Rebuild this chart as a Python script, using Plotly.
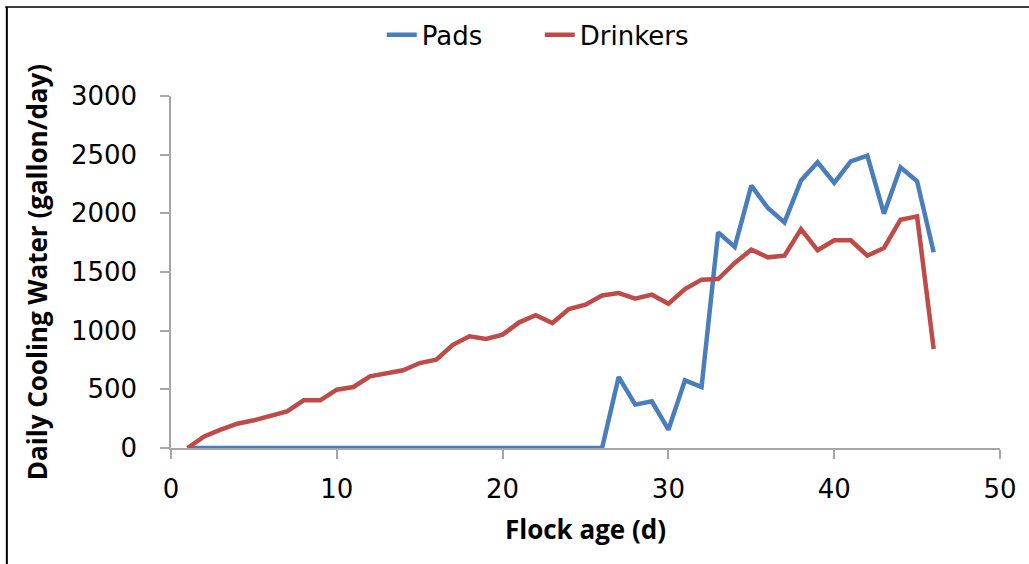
import plotly.graph_objects as go

days = list(range(1, 47))
pads = [0, 0, 0, 0, 0, 0, 0, 0, 0, 0,
        0, 0, 0, 0, 0, 0, 0, 0, 0, 0,
        0, 0, 0, 0, 0, 0, 605, 370, 398, 156,
        577, 520, 1838, 1713, 2236, 2045, 1923, 2281, 2435, 2259,
        2443, 2491, 1997, 2392, 2273, 1668]
drinkers = [0, 99, 156, 207, 236, 270, 312, 406, 406, 497,
            520, 611, 639, 662, 724, 753, 880, 952, 929, 966,
            1071, 1131, 1065, 1185, 1222, 1300, 1321, 1273, 1307, 1230,
            1355, 1435, 1440, 1577, 1690, 1625, 1639, 1866, 1685, 1770,
            1770, 1639, 1705, 1946, 1974, 844]
x_ticks = [0, 10, 20, 30, 40, 50]
y_ticks = [0, 500, 1000, 1500, 2000, 2500, 3000]

BLUE = "#4A7EBB"
RED = "#BE4B48"
AXIS = "#A6A6A6"
TICK_FONT = dict(family="DejaVu Sans", size=26, color="#000000")
TITLE_FONT = dict(family="Open Sans", size=26, color="#000000", weight="bold")

fig = go.Figure()
fig.add_trace(go.Scatter(x=days, y=pads, mode="lines", name="Pads",
                         line=dict(color=BLUE, width=4.5)))
fig.add_trace(go.Scatter(x=days, y=drinkers, mode="lines", name="Drinkers",
                         line=dict(color=RED, width=4.5)))

fig.update_layout(
    width=1029, height=564,
    margin=dict(l=171, r=29, t=96, b=116, autoexpand=False),
    paper_bgcolor="white", plot_bgcolor="white",
    showlegend=True,
    legend=dict(orientation="h", xref="container", yref="container",
                x=0.371, y=0.938, xanchor="left", yanchor="middle",
                entrywidth=113, entrywidthmode="pixels",
                font=dict(family="DejaVu Sans", size=26, color="#000000"),
                bgcolor="rgba(0,0,0,0)"),
    xaxis=dict(range=[0, 50], tickvals=x_ticks, showgrid=False, zeroline=False,
               showline=True, linecolor=AXIS, linewidth=1.5,
               ticks="outside", ticklen=9, tickcolor=AXIS, tickwidth=1.5,
               tickfont=TICK_FONT, ticklabelstandoff=8,
               title=dict(text="Flock age (d)", font=TITLE_FONT, standoff=18),
               automargin=False),
    yaxis=dict(range=[0, 3000], tickvals=y_ticks, showgrid=False, zeroline=False,
               showline=True, linecolor=AXIS, linewidth=1.5,
               ticks="outside", ticklen=9, tickcolor=AXIS, tickwidth=1.5,
               tickfont=TICK_FONT, ticklabelstandoff=18,
               title=dict(text="Daily Cooling Water (gallon/day)", font=TITLE_FONT, standoff=16),
               automargin=False),
    shapes=[
        dict(type="line", xref="paper", yref="paper", x0=-0.2, x1=1.04,
             y0=1.2528, y1=1.2528, line=dict(color="#3F3F3F", width=2)),
        dict(type="line", xref="paper", yref="paper", x0=-0.198, x1=-0.198,
             y0=-0.35, y1=1.2528, line=dict(color="#000000", width=2)),
    ],
)

fig.write_html("out.html", config={"displayModeBar": False},
               post_script="document.body.style.margin='0';")
